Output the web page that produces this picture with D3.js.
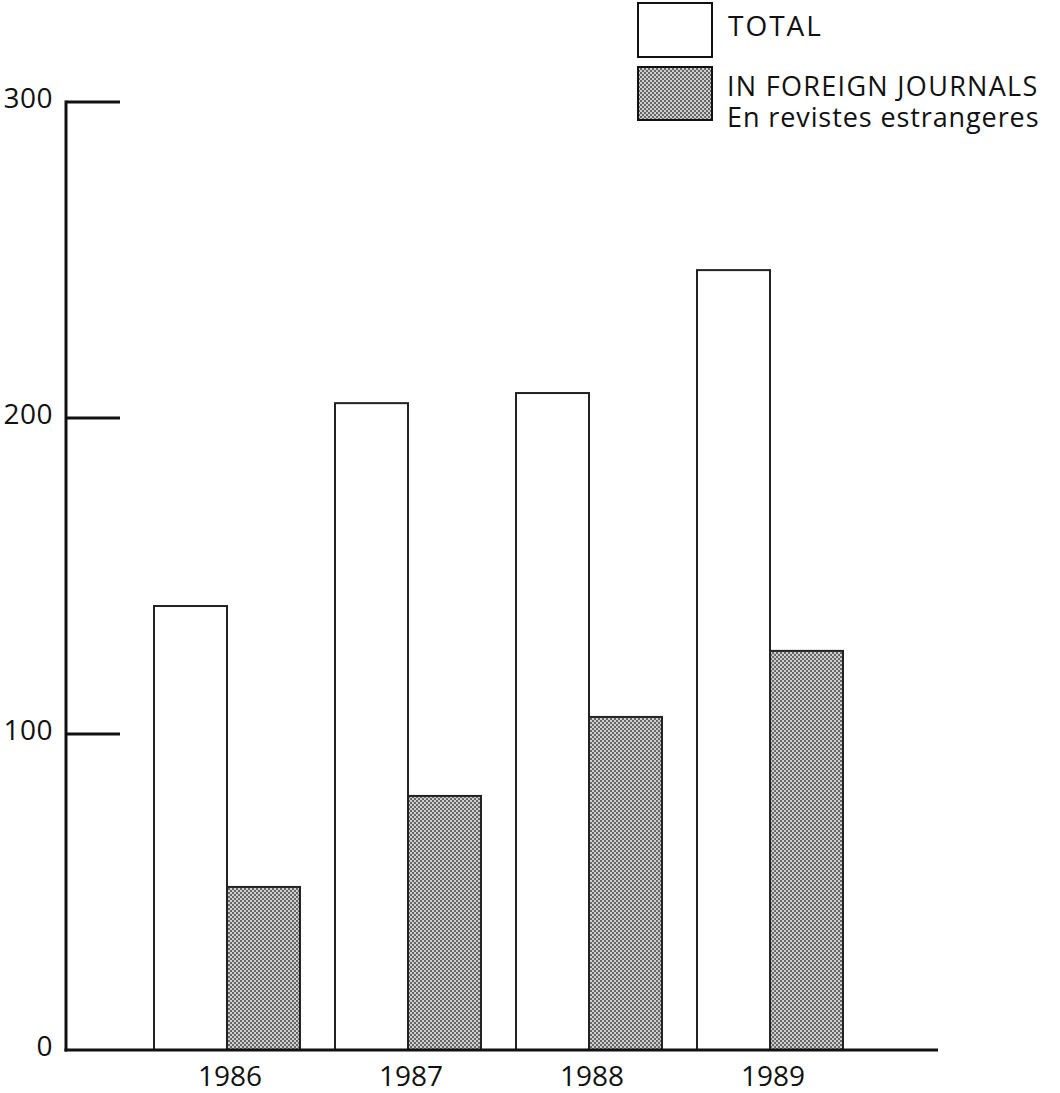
<!DOCTYPE html>
<html>
<head>
<meta charset="utf-8">
<script src="https://cdn.jsdelivr.net/npm/d3@7"></script>
<style>
  body { margin: 0; background: #fff; }
  text { font-family: "Open Sans", "Noto Sans", sans-serif; fill: #111; }
</style>
</head>
<body>
<div id="chart"></div>
<script>
// Data
var years = ['1986', '1987', '1988', '1989'];
var totalValues = [140.5, 204.7, 207.9, 246.8];
var foreignValues = [51.6, 80.4, 105.4, 126.3];
var yTicks = [0, 100, 200, 300];

var width = 1060, height = 1093;
var axisX = 66, axisY = 1050, topY = 102, rightX = 938;

var svg = d3.select('#chart').append('svg')
	.attr('width', width)
	.attr('height', height);

// stipple pattern for the grey bars
var pat = svg.append('defs').append('pattern')
	.attr('id', 'dots')
	.attr('patternUnits', 'userSpaceOnUse')
	.attr('width', 4)
	.attr('height', 4);
pat.append('rect').attr('width', 4).attr('height', 4).attr('fill', '#cfcfcf');
pat.append('rect').attr('width', 2).attr('height', 2).attr('fill', '#666');
pat.append('rect').attr('x', 2).attr('y', 2).attr('width', 2).attr('height', 2).attr('fill', '#666');

var y = d3.scaleLinear().domain([0, 300]).range([axisY, topY]);
// each band 181 wide, bars of 73 start at band + 27
var x = d3.scaleBand().domain(years).range([127, 127 + 181 * 4]);
var barW = 73, barOff = 27;

var g = svg.append('g');

// bars
g.selectAll('rect.total').data(years).enter().append('rect')
	.attr('class', 'total')
	.attr('x', function (d) { return x(d) + barOff; })
	.attr('y', function (d, i) { return y(totalValues[i]); })
	.attr('width', barW)
	.attr('height', function (d, i) { return axisY - y(totalValues[i]); })
	.attr('fill', '#fff')
	.attr('stroke', '#222')
	.attr('stroke-width', 2);

g.selectAll('rect.foreign').data(years).enter().append('rect')
	.attr('class', 'foreign')
	.attr('x', function (d) { return x(d) + barOff + barW; })
	.attr('y', function (d, i) { return y(foreignValues[i]); })
	.attr('width', barW)
	.attr('height', function (d, i) { return axisY - y(foreignValues[i]); })
	.attr('fill', 'url(#dots)')
	.attr('stroke', '#222')
	.attr('stroke-width', 2);

// y axis line + ticks
g.append('line')
	.attr('x1', axisX).attr('x2', axisX)
	.attr('y1', topY - 1.5).attr('y2', axisY + 1.5)
	.attr('stroke', '#111').attr('stroke-width', 3);

g.selectAll('line.tick').data(yTicks.filter(function (t) { return t > 0; })).enter().append('line')
	.attr('x1', axisX).attr('x2', 120)
	.attr('y1', function (d) { return y(d); })
	.attr('y2', function (d) { return y(d); })
	.attr('stroke', '#111').attr('stroke-width', 3);

g.selectAll('text.ytick').data(yTicks).enter().append('text')
	.attr('x', 53)
	.attr('y', function (d) { return y(d) + 6; })
	.attr('text-anchor', 'end')
	.attr('font-size', 28)
	.attr('letter-spacing', 0.5)
	.text(function (d) { return d; });

// x axis
g.append('line')
	.attr('x1', axisX - 1.5).attr('x2', rightX)
	.attr('y1', axisY).attr('y2', axisY)
	.attr('stroke', '#111').attr('stroke-width', 3);

g.selectAll('text.xtick').data(years).enter().append('text')
	.attr('x', function (d) { return x(d) + barOff + barW + 3; })
	.attr('y', 1086)
	.attr('text-anchor', 'middle')
	.attr('font-size', 28)
	.text(function (d) { return d; });

// legend
var leg = svg.append('g');
leg.append('rect').attr('x', 638).attr('y', 3).attr('width', 74).attr('height', 54)
	.attr('fill', '#fff').attr('stroke', '#111').attr('stroke-width', 2);
leg.append('rect').attr('x', 638).attr('y', 67).attr('width', 74).attr('height', 53)
	.attr('fill', 'url(#dots)').attr('stroke', '#111').attr('stroke-width', 2);
leg.append('text').attr('x', 728).attr('y', 36).attr('font-size', 28).attr('letter-spacing', 2).text('TOTAL');
leg.append('text').attr('x', 727).attr('y', 96).attr('font-size', 27).attr('letter-spacing', 1.3).text('IN FOREIGN JOURNALS');
leg.append('text').attr('x', 727).attr('y', 127).attr('font-size', 27).attr('letter-spacing', 0.9).text('En revistes estrangeres');
</script>
</body>
</html>
